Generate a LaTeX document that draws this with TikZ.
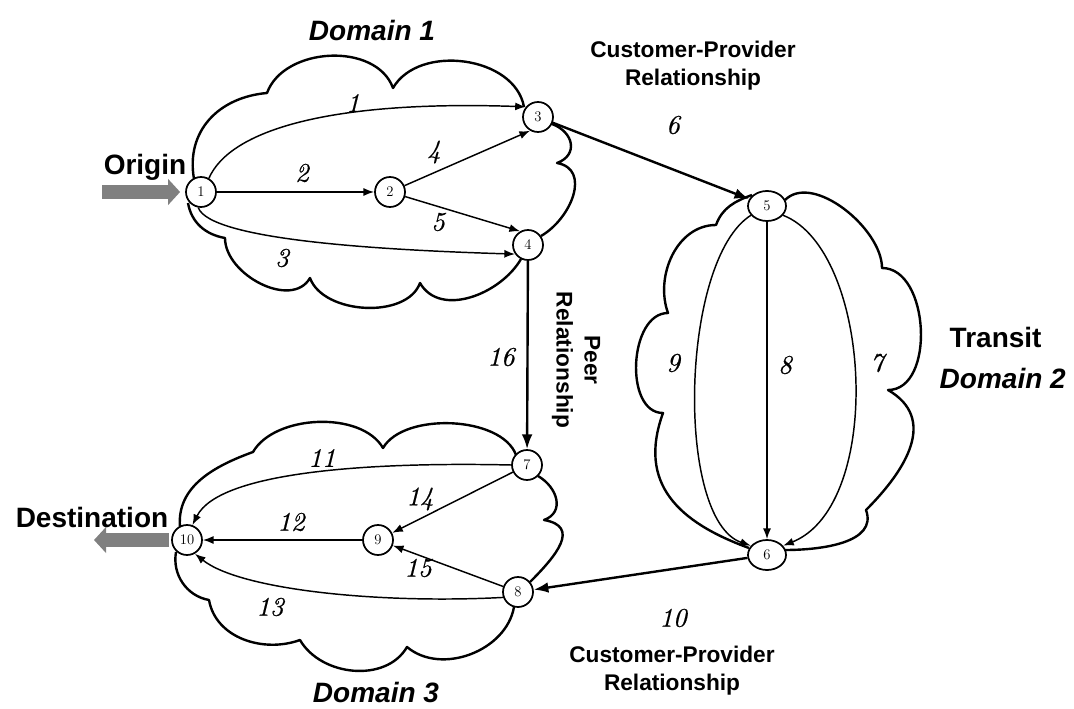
\documentclass[tikz,border=0pt]{standalone}
\usepackage{fontspec}
\setsansfont{Liberation Sans}
\newfontfamily\numfont{lmroman10-italic}[Extension=.otf,FakeBold=0.6]
\usetikzlibrary{arrows.meta,shapes.geometric}
\definecolor{arrowgrey}{RGB}{128,128,128}
\begin{document}
\begin{tikzpicture}[x=0.75pt,y=-0.75pt,
  cloud/.style={line width=1.8pt,line join=round},
  router/.style={circle,draw,line width=1.3pt,fill=white,minimum size=22.5pt,inner sep=0pt,font=\fontsize{11}{13}\selectfont},
  transitnode/.style={ellipse,draw,line width=1.3pt,fill=white,minimum width=28.5pt,minimum height=22.5pt,inner sep=0pt,font=\fontsize{11}{13}\selectfont},
  link/.style={line width=1.1pt,-{Latex[length=8pt,width=6pt]}},
  trunk/.style={line width=1.8pt,-{Latex[length=11pt,width=8pt]}},
  num/.style={font=\numfont\fontsize{20}{24}\selectfont},
  title/.style={font=\sffamily\bfseries\itshape\fontsize{21}{25}\selectfont},
  tag/.style={font=\sffamily\bfseries\fontsize{21}{25}\selectfont},
  rel/.style={font=\sffamily\bfseries\fontsize{17}{21}\selectfont,align=center},
  feed/.style={line width=10pt,arrowgrey,-{Triangle[length=9pt,width=19pt]}}]
\useasboundingbox (0,0) rectangle (1074,709);

% Domain 1 outline
\draw[cloud] (194,179)
  to[out=100,in=185,looseness=1.1] (267,93)
  to[out=70,in=110] (393,88)
  to[out=60,in=100] (524,107)
  (552,124) to[out=-20,in=20,looseness=1.5] (557,163)
  to[out=-10,in=30,looseness=1.2] (541,236)
  (521,259) to[out=-120,in=-60] (420,283)
  to[out=-110,in=-70,looseness=0.9] (310,278)
  to[out=-120,in=-90] (225,238)
  to[out=170,in=-80] (188,203);

% Domain 2 outline
\draw[cloud] (785,200)
  to[out=45,in=90,looseness=0.85] (882,268)
  to[out=0,in=0] (888,390)
  to[out=-30,in=45,looseness=1.2] (866,510)
  to[out=-70,in=0] (785,550)
  (749,548) to[out=160,in=-110,looseness=1.2] (663,413)
  to[out=180,in=180] (668,313)
  to[out=110,in=180] (716,225)
  to[out=70,in=200] (752,195);

% Domain 3 outline
\draw[cloud] (180,527)
  to[out=95,in=200] (253,452)
  to[out=60,in=120,looseness=0.85] (383,448)
  to[out=60,in=110,looseness=0.8] (516,455)
  (538,476) to[out=-30,in=20,looseness=1.3] (544,520)
  to[out=-10,in=45,looseness=1.5] (530,582)
  (514,607) to[out=-100,in=-40] (407,647)
  to[out=-120,in=-60] (300,640)
  to[out=-160,in=-80] (209,600)
  to[out=170,in=-100] (176,552);

% routers
\node[router] (n1) at (201,192) {1};
\node[router] (n2) at (390,192) {2};
\node[router] (n3) at (538,117) {3};
\node[router] (n4) at (528,245) {4};
\node[transitnode] (n5) at (767,206) {5};
\node[transitnode] (n6) at (767,555) {6};
\node[router] (n7) at (527,465) {7};
\node[router] (n8) at (518,592) {8};
\node[router] (n9) at (378,540) {9};
\node[router] (n10) at (187,540) {10};

% ingress and egress
\coordinate (src) at (102,192);
\coordinate (sink) at (94,540);
\draw[feed] (src) -- ([xshift=-3.75pt]n1.west);
\draw[feed] ([xshift=-1.5pt]n10.west) -- (sink);

% links inside Domain 1
\draw[link] (n1.60) .. controls (230,130) and (330,100) .. (n3.140);
\draw[link] (n1) -- (n2);
\draw[link] (n1.-100) .. controls (210,240) and (380,250) .. (n4.215);
\draw[link] (n2) -- (n3.240);
\draw[link] (n2) -- (n4.120);

% inter-domain links
\draw[trunk] (n3) -- (n5);
\draw[trunk] (n4) -- (n7);
\draw[trunk] (n6) -- (n8);

% links inside Domain 2
\draw[link] (n5.330) .. controls (872,250) and (885,505) .. (n6.30);
\draw[link] (n5) -- (n6);
\draw[link] (n5.210) .. controls (680,260) and (675,520) .. (n6.150);

% links inside Domain 3
\draw[link] (n7.180) .. controls (380,462) and (220,470) .. (n10.70);
\draw[link] (n9) -- (n10);
\draw[link] (n8.200) .. controls (380,604) and (240,590) .. (n10.-60);
\draw[link] (n7) -- (n9);
\draw[link] (n8) -- (n9);

% path numbers
\node[num] (l1) at (353,103) {1};
\node[num] (l2) at (302,173) {2};
\node[num] (l3) at (282,258) {3};
\node[num] (l4) at (434,152) {4};
\node[num] (l5) at (438,222) {5};
\node[num] (l6) at (673,125) {6};
\node[num] (l7) at (877,363) {7};
\node[num] (l8) at (785,365) {8};
\node[num] (l9) at (673,363) {9};
\node[num] (l10) at (673,618) {10};
\node[num] (l11) at (322,458) {11};
\node[num] (l12) at (291,522) {12};
\node[num] (l13) at (270,607) {13};
\node[num] (l14) at (420,499) {14};
\node[num] (l15) at (418,568) {15};
\node[num] (l16) at (501,357) {16};

% captions
\node[title] (d1) at (372,30) {Domain 1};
\node[tag, anchor=west] (tr) at (945,337) {Transit};
\node[title, anchor=west] (d2) at (935,378) {Domain 2};
\node[title] (d3) at (376,692) {Domain 3};
\node[tag] (orig) at (145,167) {Origin};
\node[tag] (dest) at (92,517) {Destination};
\node[rel] (cp1) at (693,66) {Customer-Provider\\Relationship};
\node[rel] (cp2) at (672,671) {Customer-Provider\\Relationship};
\node[rel, rotate=-90] (peer) at (576,360) {Peer\\Relationship};
\end{tikzpicture}
\end{document}
